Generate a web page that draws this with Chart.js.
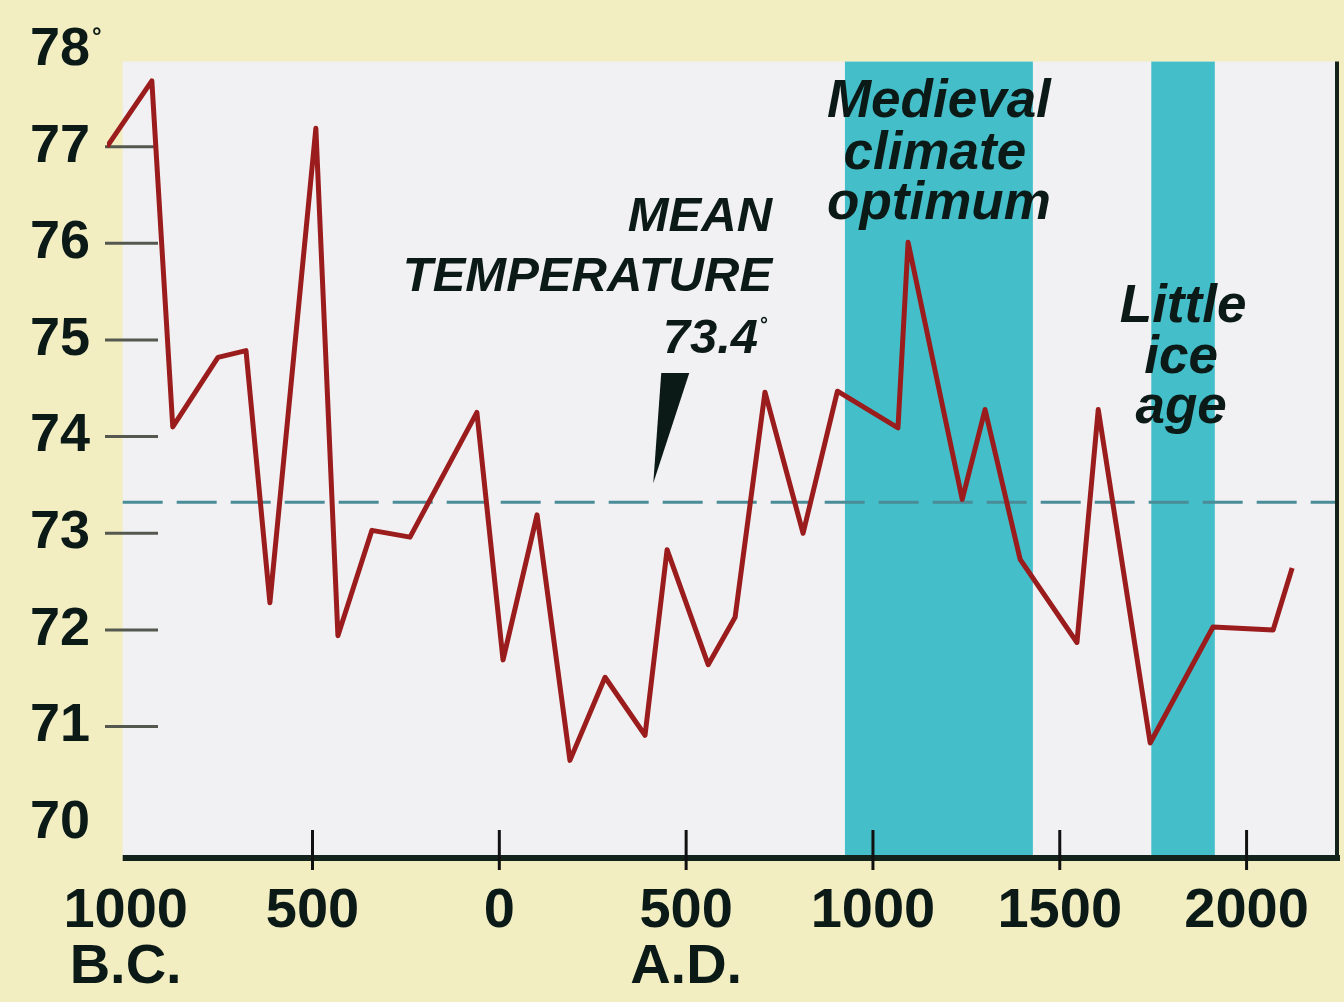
<!DOCTYPE html>
<html>
<head>
<meta charset="utf-8">
<script src="https://cdn.jsdelivr.net/npm/chart.js@4.4.1/dist/chart.umd.min.js"></script>
<style>
  html, body { margin: 0; padding: 0; background: #f2eec2; }
  #wrap { width: 1344px; height: 1002px; }
</style>
</head>
<body>
<div id="wrap"><canvas id="chart" width="1344" height="1002"></canvas></div>
<script>
// years (negative = B.C.) and temperatures
const years = [-1050, -930, -874, -753, -678, -614, -491, -432, -341, -239, -60, 10, 101, 189, 283, 390, 449,
  559, 631, 711, 813, 905, 1067, 1094, 1239, 1300, 1394, 1546, 1603, 1742, 1910, 2071, 2122];
const temps = [77.0, 77.68, 74.1, 74.82, 74.89, 72.28, 77.19, 71.94, 73.03, 72.96, 74.25, 71.69, 73.19, 70.65, 71.51, 70.91, 72.83,
  71.64, 72.13, 74.46, 73.0, 74.47, 74.09, 76.01, 73.35, 74.28, 72.73, 71.87, 74.28, 70.83, 72.03, 72.0, 72.64];

const xTicks = [-1000, -500, 0, 500, 1000, 1500, 2000];
const xTickLabels = [["1000", "B.C."], "500", "0", ["500", "A.D."], "1000", "1500", "2000"];
const yTicks = [70, 71, 72, 73, 74, 75, 76, 77, 78];
const yTickMarks = [71, 72, 73, 74, 75, 76, 77];

const meanLabel = "73.4";
const meanLine = 73.32;
const medieval = [925, 1428];
const littleIceAge = [1745, 1915];

const FONT = '"Liberation Sans", Arial, sans-serif';
const INK = '#0c1a17';

const decor = {
  id: 'decor',
  beforeDraw(chart) {
    const { ctx, chartArea: ca, scales: { x, y } } = chart;
    const left = x.getPixelForValue(-1008);
    const top = y.getPixelForValue(77.88);
    ctx.save();
    ctx.fillStyle = '#f2eec2';
    ctx.fillRect(0, 0, chart.width, chart.height);
    ctx.fillStyle = '#f1f1f3';
    ctx.fillRect(left, top, ca.right - left, ca.bottom - top);

    // shaded periods
    ctx.fillStyle = '#44bfca';
    [medieval, littleIceAge].forEach(b => {
      const x0 = x.getPixelForValue(b[0]), x1 = x.getPixelForValue(b[1]);
      ctx.fillRect(x0, top, x1 - x0, ca.bottom - top);
    });

    // mean line
    const ym = y.getPixelForValue(meanLine);
    ctx.setLineDash([40, 14]);
    ctx.strokeStyle = '#4a8c98';
    ctx.lineWidth = 3;
    ctx.beginPath();
    ctx.moveTo(left, ym);
    ctx.lineTo(ca.right, ym);
    ctx.stroke();
    ctx.setLineDash([]);

    // y tick marks
    ctx.strokeStyle = '#55584e';
    ctx.lineWidth = 3;
    yTickMarks.forEach(v => {
      const py = y.getPixelForValue(v);
      ctx.beginPath();
      ctx.moveTo(ca.left - 2, py);
      ctx.lineTo(ca.left + 51, py);
      ctx.stroke();
    });
    ctx.restore();
  },
  afterDatasetsDraw(chart) {
    const { ctx, chartArea: ca, scales: { x, y } } = chart;
    const left = x.getPixelForValue(-1008);
    const top = y.getPixelForValue(77.88);
    ctx.save();
    // axis + right border
    ctx.strokeStyle = '#14221c';
    ctx.lineWidth = 6;
    ctx.beginPath();
    ctx.moveTo(left, ca.bottom);
    ctx.lineTo(ca.right + 3, ca.bottom);
    ctx.stroke();
    ctx.lineWidth = 4;
    ctx.beginPath();
    ctx.moveTo(ca.right, top);
    ctx.lineTo(ca.right, ca.bottom);
    ctx.stroke();
    ctx.lineWidth = 3;
    ctx.strokeStyle = '#111';
    xTicks.slice(1).forEach(v => {
      const px = x.getPixelForValue(v);
      ctx.beginPath();
      ctx.moveTo(px, ca.bottom - 28);
      ctx.lineTo(px, ca.bottom + 12);
      ctx.stroke();
    });

    // degree sign on top y label
    ctx.fillStyle = INK;
    ctx.font = 'bold 24px ' + FONT;
    ctx.textAlign = 'left';
    ctx.textBaseline = 'alphabetic';
    ctx.fillText('°', 92, y.getPixelForValue(78) - 6);

    // mean temperature note
    const rx = x.getPixelForValue(730);
    ctx.textAlign = 'right';
    ctx.font = 'italic bold 49px ' + FONT;
    ctx.fillText('MEAN', rx, 231);
    ctx.fillText('TEMPERATURE', rx, 291);
    ctx.fillText(meanLabel, rx - 14, 353);
    ctx.font = 'bold 20px ' + FONT;
    ctx.textAlign = 'left';
    ctx.fillText('°', rx - 12, 331);

    // pointer wedge
    const tipX = x.getPixelForValue(412), tipY = y.getPixelForValue(meanLine) - 19;
    ctx.beginPath();
    ctx.moveTo(tipX + 8, 373);
    ctx.lineTo(tipX + 36, 373);
    ctx.lineTo(tipX, tipY);
    ctx.closePath();
    ctx.fill();

    // band labels
    ctx.textAlign = 'center';
    ctx.font = 'italic bold 53px ' + FONT;
    const mx = x.getPixelForValue((medieval[0] + medieval[1]) / 2);
    ctx.fillText('Medieval', mx, 117);
    ctx.fillText('climate', mx - 4, 169);
    ctx.fillText('optimum', mx, 219);
    const lx = x.getPixelForValue((littleIceAge[0] + littleIceAge[1]) / 2);
    ctx.fillText('Little', lx, 322);
    ctx.fillText('ice', lx - 2, 373);
    ctx.fillText('age', lx - 2, 423);
    ctx.restore();
  }
};

new Chart(document.getElementById('chart'), {
  type: 'line',
  data: {
    datasets: [{
      data: years.map((yr, i) => ({ x: yr, y: temps[i] })),
      borderColor: '#9b1c1c',
      borderWidth: 5,
      borderJoinStyle: 'round',
      pointRadius: 0,
      tension: 0,
      fill: false
    }]
  },
  options: {
    responsive: false,
    devicePixelRatio: 1,
    animation: false,
    layout: { padding: { top: 50, right: 7, left: 0, bottom: 0 } },
    plugins: { legend: { display: false }, tooltip: { enabled: false } },
    scales: {
      x: {
        type: 'linear',
        min: -1050,
        max: 2242,
        afterBuildTicks: s => { s.ticks = xTicks.map(v => ({ value: v })); },
        afterFit: s => { s.height = 144; },
        grid: { display: false, drawTicks: false },
        border: { display: false },
        ticks: {
          autoSkip: false,
          maxRotation: 0,
          padding: 26,
          color: INK,
          font: { family: FONT, size: 56, weight: 'bold', lineHeight: 1.0 },
          callback: (v, i) => xTickLabels[i]
        }
      },
      y: {
        min: 69.64,
        max: 78,
        afterBuildTicks: s => { s.ticks = yTicks.map(v => ({ value: v })); },
        afterFit: s => { s.width = 107; },
        grid: { display: false, drawTicks: false },
        border: { display: false },
        ticks: {
          padding: 17,
          color: INK,
          font: { family: FONT, size: 54, weight: 'bold' },
          callback: v => String(v)
        }
      }
    }
  },
  plugins: [decor]
});
</script>
</body>
</html>
